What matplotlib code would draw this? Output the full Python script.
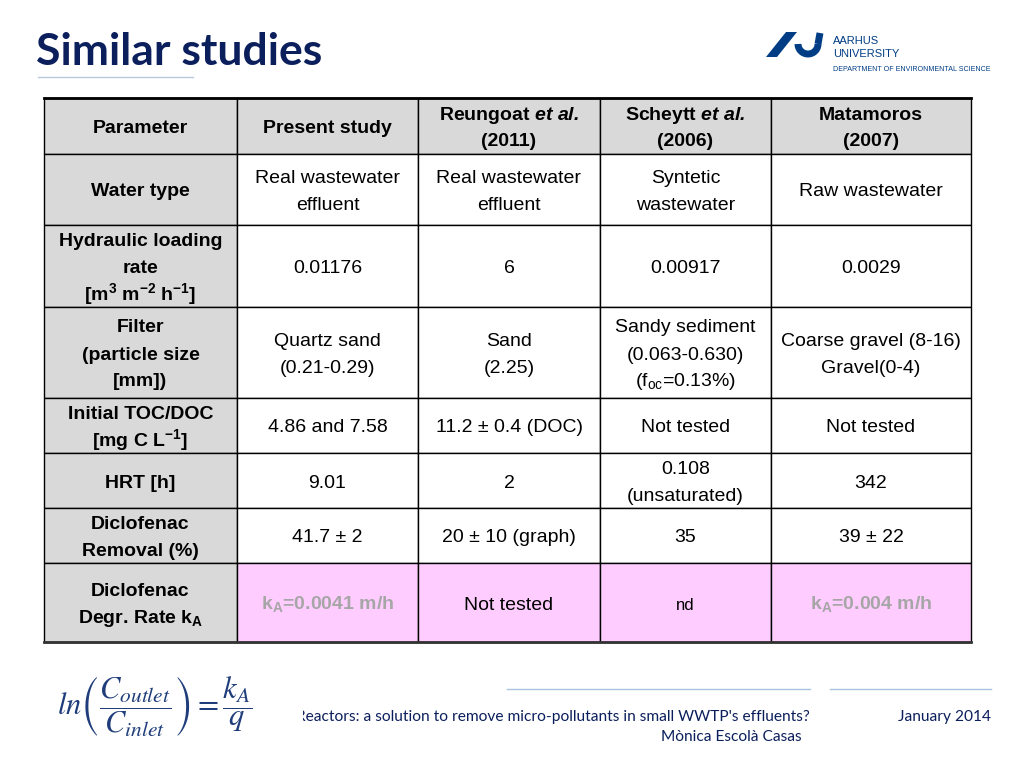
import matplotlib
matplotlib.use("Agg")
import numpy as np
import matplotlib.pyplot as plt
from matplotlib.patches import Rectangle, Polygon
from matplotlib.transforms import Bbox, TransformedBbox

plt.rcParams['font.family'] = ['Liberation Sans', 'DejaVu Sans']
plt.rcParams['mathtext.fontset'] = 'custom'
plt.rcParams['mathtext.rm'] = 'Liberation Sans'
plt.rcParams['mathtext.it'] = 'Liberation Sans:italic'
plt.rcParams['mathtext.bf'] = 'Liberation Sans:bold'
plt.rcParams['mathtext.bfit'] = 'Liberation Sans:italic:bold'

# table content
header = ["Parameter", "Present study",
          "Reungoat $\\mathbfit{et\\ al.}$\n(2011)",
          "Scheytt $\\mathbfit{et\\ al.}$\n(2006)",
          "Matamoros\n(2007)"]
params = ["Water type",
          "Hydraulic loading\nrate\n[m$^\\mathbf{3}$ m$^\\mathbf{-2}$ h$^\\mathbf{-1}$]",
          "Filter\n(particle size\n[mm])",
          "Initial TOC/DOC\n[mg C L$^\\mathbf{-1}$]",
          "HRT [h]",
          "Diclofenac\nRemoval (%)",
          "Diclofenac\nDegr. Rate k$_\\mathbf{A}$"]
present = ["Real wastewater\neffluent", "0.01176", "Quartz sand\n(0.21-0.29)",
           "4.86 and 7.58", "9.01", "41.7 ± 2", "k$_\\mathbf{A}$=0.0041 m/h"]
reungoat = ["Real wastewater\neffluent", "6", "Sand\n(2.25)",
            "11.2 ± 0.4 (DOC)", "2", "20 ± 10 (graph)", "Not tested"]
scheytt = ["Syntetic\nwastewater", "0.00917",
           "Sandy sediment\n(0.063-0.630)\n(f$_{\\mathrm{oc}}$=0.13%)",
           "Not tested", "0.108\n(unsaturated)", "35", "nd"]
matamoros = ["Raw wastewater", "0.0029", "Coarse gravel (8-16)\nGravel(0-4)",
             "Not tested", "342", "39 ± 22", "k$_\\mathbf{A}$=0.004 m/h"]

# layout in pixels
col_edges = [44, 237, 418, 600, 771, 971]
row_edges = [98, 154, 225, 307, 398, 453, 508, 563, 642]
line_gap = 27

navy = '#0b1f5c'
logo_blue = '#003d85'
gray_bg = '#d9d9d9'
pink_bg = '#ffccff'

fig = plt.figure(figsize=(10.24, 7.68), dpi=100)
ax = fig.add_axes([0, 0, 1, 1])
ax.set_xlim(0, 1024)
ax.set_ylim(768, 0)
ax.axis('off')


def cell_text(x, yc, text, bold=False, color='black', size=14):
    lines = text.split('\n')
    n = len(lines)
    for i, ln in enumerate(lines):
        y = yc + (i - (n - 1) / 2) * line_gap
        ax.text(x, y + 7, ln, ha='center', va='baseline', fontsize=size,
                fontweight='bold' if bold else 'normal', color=color)


columns = [params, present, reungoat, scheytt, matamoros]
nrows = len(params)

for c in range(5):
    x0, x1 = col_edges[c], col_edges[c + 1]
    xc = (x0 + x1) / 2
    # header cell
    y0, y1 = row_edges[0], row_edges[1]
    ax.add_patch(Rectangle((x0, y0), x1 - x0, y1 - y0, facecolor=gray_bg,
                           edgecolor='black', lw=1))
    cell_text(xc, (y0 + y1) / 2, header[c], bold=True)
    for r in range(nrows):
        y0, y1 = row_edges[r + 1], row_edges[r + 2]
        if c == 0:
            fc = gray_bg
        elif r == nrows - 1:
            fc = pink_bg
        else:
            fc = 'white'
        ax.add_patch(Rectangle((x0, y0), x1 - x0, y1 - y0, facecolor=fc,
                               edgecolor='black', lw=1))
        txt = columns[c][r]
        bold = c == 0
        color = 'black'
        size = 14
        if r == nrows - 1 and txt.startswith('k$'):
            bold = True
            color = '#a6a6a6'
        if txt == 'nd':
            size = 12
        cell_text(xc, (y0 + y1) / 2, txt, bold=bold, color=color, size=size)

# thicker outer top / bottom lines
ax.plot([col_edges[0], col_edges[-1]], [row_edges[0], row_edges[0]], color='black', lw=2)
ax.plot([col_edges[0], col_edges[-1]], [row_edges[-1], row_edges[-1]], color='#333333', lw=2)

# title
ax.text(36, 65, "Similar studies", fontsize=32, fontweight='bold', color=navy,
        family='Lato', ha='left', va='baseline')
ax.plot([38, 193], [77, 77], color='#b8c8dc', lw=1)

# logo
ax.add_patch(Polygon([[766, 57], [777, 57], [797, 32], [786, 32]], closed=True,
                     facecolor=logo_blue, edgecolor='none'))
t = np.linspace(0, np.pi, 40)
ax.plot(808 + 10 * np.cos(t), 44 + 10 * np.sin(t), color=logo_blue, lw=5,
        solid_capstyle='butt')
ax.plot([818, 820], [44, 33], color=logo_blue, lw=5, solid_capstyle='butt')
ax.text(833, 44, "AARHUS", fontsize=8, color=logo_blue, va='baseline')
ax.text(833, 57, "UNIVERSITY", fontsize=8, color=logo_blue, va='baseline')
ax.text(833, 71, "DEPARTMENT OF ENVIRONMENTAL SCIENCE", fontsize=5.1,
        color=logo_blue, va='baseline')

# formula
ax.text(57, 707, r"$ln\left(\dfrac{C_{outlet}}{C_{inlet}}\right)=\dfrac{k_A}{q}$",
        fontsize=22, color='#1f3d7a', math_fontfamily='stix', ha='left', va='center')

# footer
ax.plot([507, 810], [689, 689], color='#a9c4e0', lw=1)
ax.plot([830, 991], [689, 689], color='#a9c4e0', lw=1)
ft = ax.text(810, 721, "Reactors: a solution to remove micro-pollutants in small WWTP's effluents?",
             fontsize=11.2, color=navy, family='Lato', ha='right', va='baseline')
ft.set_clip_box(TransformedBbox(Bbox([[303, 690], [823, 750]]), ax.transData))
ft.set_clip_on(True)
ax.text(802, 741, "Mònica Escolà Casas", fontsize=11.2, color=navy, family='Lato',
        ha='right', va='baseline')
ax.text(991, 721, "January 2014", fontsize=11.2, color=navy, family='Lato',
        ha='right', va='baseline')

fig.savefig("out.png", dpi=100)
